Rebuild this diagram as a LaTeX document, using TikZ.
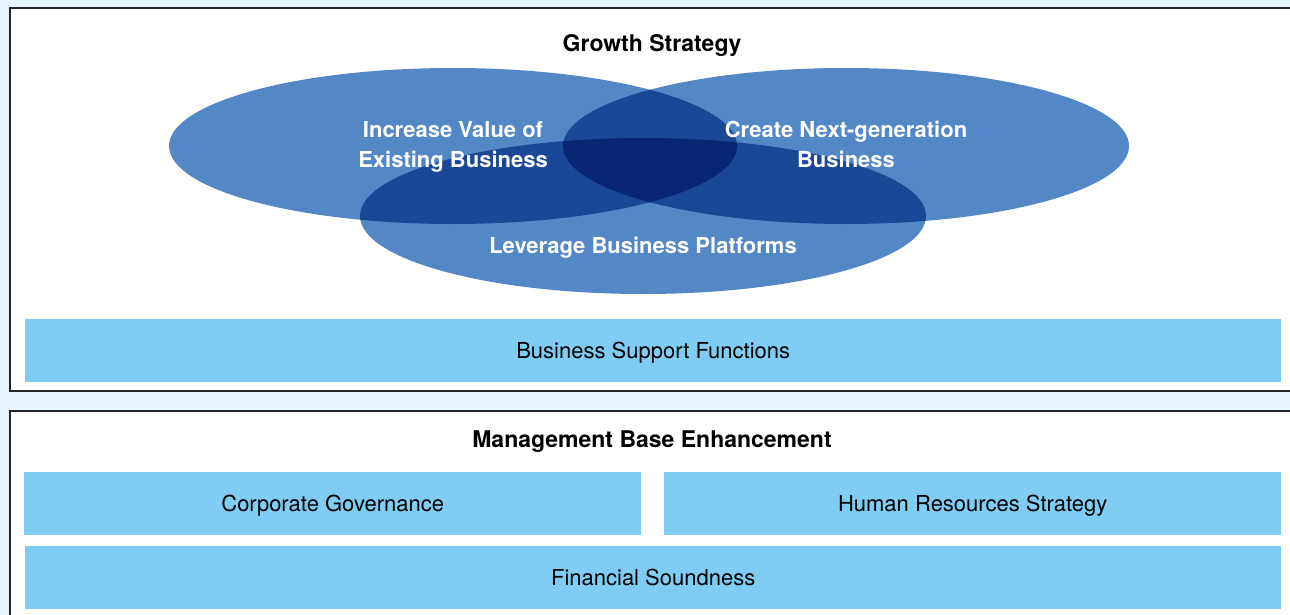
\documentclass[tikz,border=0pt]{standalone}
\usepackage{fontspec}
\setmainfont{TeX Gyre Heros}
\definecolor{bgblue}{HTML}{E8F4FC}
\definecolor{barblue}{HTML}{7FCDF2}
\definecolor{ringA}{HTML}{5387C6}
\definecolor{ringB}{HTML}{1B4797}
\definecolor{ringC}{HTML}{082673}
\tikzset{
  bar/.style={fill=barblue, anchor=north west, minimum height=63pt, inner sep=0pt,
    text depth=0pt, font=\fontsize{22}{26}\selectfont},
  panel/.style={draw=black!85, fill=white, line width=1.5pt},
  title/.style={font=\bfseries\fontsize{23}{27}\selectfont},
  ringtext/.style={text=white, align=center, font=\bfseries\fontsize{22}{30}\selectfont},
}
\begin{document}
\begin{tikzpicture}[x=1pt, y=-1pt]
  \useasboundingbox (0,0) rectangle (1290,615);
  \fill[bgblue] (0,0) rectangle (1290,615);
  \draw[panel] (10,8) rectangle (1300,391);
  \draw[panel] (10,411) rectangle (1300,630);

  \fill[ringA] (453,146) ellipse [x radius=284, y radius=78];
  \fill[ringA] (846,146) ellipse [x radius=283, y radius=78];
  \fill[ringA] (643,216) ellipse [x radius=283, y radius=78];
  \begin{scope}
    \clip (453,146) ellipse [x radius=284, y radius=78];
    \fill[ringB] (846,146) ellipse [x radius=283, y radius=78];
    \fill[ringB] (643,216) ellipse [x radius=283, y radius=78];
  \end{scope}
  \begin{scope}
    \clip (846,146) ellipse [x radius=283, y radius=78];
    \fill[ringB] (643,216) ellipse [x radius=283, y radius=78];
  \end{scope}
  \begin{scope}
    \clip (453,146) ellipse [x radius=284, y radius=78];
    \clip (846,146) ellipse [x radius=283, y radius=78];
    \fill[ringC] (643,216) ellipse [x radius=283, y radius=78];
  \end{scope}

  \node[title] (growth) at (652,45) {Growth Strategy};
  \node[ringtext] (existing) at (453,147) {Increase Value of\\Existing Business};
  \node[ringtext] (nextgen) at (846,144) {Create Next-generation\\Business};
  \node[ringtext] (platforms) at (643,248) {Leverage Business Platforms};

  \node[bar, minimum width=1256pt] (support) at (25,319) {Business Support Functions};

  \node[title] (mgmt) at (652,442) {Management Base Enhancement};
  \node[bar, minimum width=617pt] (governance) at (24,472) {Corporate Governance};
  \node[bar, minimum width=617pt] (hr) at (664,472) {Human Resources Strategy};
  \node[bar, minimum width=1256pt] (finance) at (25,546) {Financial Soundness};
\end{tikzpicture}
\end{document}
